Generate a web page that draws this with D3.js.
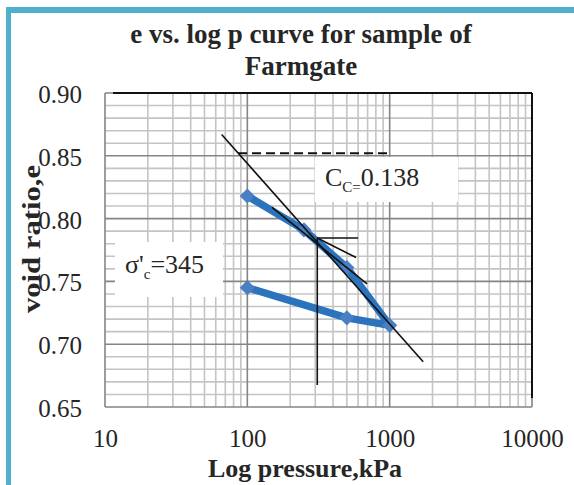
<!DOCTYPE html>
<html>
<head>
<meta charset="utf-8">
<script src="https://cdn.jsdelivr.net/npm/d3@7"></script>
<style>
  body { margin: 0; background: #fff; }
  text { font-family: "Liberation Serif", "Times New Roman", serif; fill: #262626; }
</style>
</head>
<body>
<svg width="574" height="485"></svg>
<script>
// e - log p test points (loading then unloading)
let pressure = [100, 250, 500, 1000, 500, 100]
let voidRatio = [0.818, 0.791, 0.761, 0.715, 0.721, 0.745]

let xTicks = [10, 100, 1000, 10000]
let yTicks = [0.65, 0.70, 0.75, 0.80, 0.85, 0.90]

// Casagrande construction lines, [pressure, e]
let compressionLine = [[66, 0.867], [1720, 0.686]]
let tangentLine = [[149, 0.809], [693, 0.748]]
let bisectorLine = [[310, 0.7845], [581, 0.769]]
let horizontalLine = [[310, 0.7845], [600, 0.7845]]
let verticalLine = [[310, 0.7845], [310, 0.6675]]
let dashedLine = [[86, 0.852], [1000, 0.852]]

let width = 574
let height = 485
let margin = { top: 93, bottom: 78, left: 105, right: 42 }
let serif = '"Liberation Serif", "Times New Roman", serif'

let svg = d3.select('svg')

svg.append('rect')
  .attr('width', width)
  .attr('height', height)
  .attr('fill', '#fff')

// outer frame (cut off right and bottom)
svg.append('rect').attr('x', 6).attr('y', 7).attr('width', width - 6).attr('height', 6).attr('fill', '#4eb0cc')
svg.append('rect').attr('x', 6).attr('y', 7).attr('width', 5).attr('height', height - 7).attr('fill', '#4eb0cc')

let xScale = d3.scaleLog()
  .domain([10, 10000])
  .range([margin.left, width - margin.right])

let yScale = d3.scaleLinear()
  .domain([0.65, 0.90])
  .range([height - margin.bottom, margin.top])

let x0 = xScale.range()[0], x1 = xScale.range()[1]
let y0 = yScale.range()[0], y1 = yScale.range()[1]

// grid
let minorX = []
;[10, 100, 1000].forEach(d => d3.range(2, 10).forEach(k => minorX.push(k * d)))
let minorY = d3.range(66, 90).filter(i => i % 5 !== 0).map(i => i / 100)

let grid = svg.append('g')
grid.selectAll('.mx').data(minorX).join('line')
  .attr('x1', d => xScale(d)).attr('x2', d => xScale(d))
  .attr('y1', y0).attr('y2', y1)
  .attr('stroke', '#c4c4c4').attr('stroke-width', 1.6)
grid.selectAll('.my').data(minorY).join('line')
  .attr('x1', x0).attr('x2', x1)
  .attr('y1', d => yScale(d)).attr('y2', d => yScale(d))
  .attr('stroke', '#c4c4c4').attr('stroke-width', 1.6)
grid.selectAll('.Mx').data(xTicks).join('line')
  .attr('x1', d => xScale(d)).attr('x2', d => xScale(d))
  .attr('y1', y0).attr('y2', y1)
  .attr('stroke', '#858585').attr('stroke-width', 1.6)
grid.selectAll('.My').data(yTicks).join('line')
  .attr('x1', x0).attr('x2', x1)
  .attr('y1', d => yScale(d)).attr('y2', d => yScale(d))
  .attr('stroke', '#858585').attr('stroke-width', 1.6)

// plot border: top and right in black
svg.append('line').attr('x1', x0 + 8).attr('x2', x1).attr('y1', y1).attr('y2', y1)
  .attr('stroke', '#111').attr('stroke-width', 2)
svg.append('line').attr('x1', x1).attr('x2', x1).attr('y1', y1).attr('y2', y0 - 9)
  .attr('stroke', '#111').attr('stroke-width', 2)

// axes
let xAxis = d3.axisBottom(xScale).tickValues(xTicks).tickSize(0).tickFormat(d3.format('d'))
let gx = svg.append('g')
  .attr('transform', 'translate(' + [0, y0] + ')')
  .call(xAxis)
gx.select('.domain').remove()
gx.selectAll('text')
  .attr('y', 40).attr('dy', null)
  .attr('font-size', 25).attr('font-family', serif).attr('fill', '#262626')

let yAxis = d3.axisLeft(yScale).tickValues(yTicks).tickSize(0).tickFormat(d3.format('.2f'))
let gy = svg.append('g')
  .attr('transform', 'translate(' + [x0, 0] + ')')
  .call(yAxis)
gy.select('.domain').remove()
gy.selectAll('text')
  .attr('x', -23).attr('dy', '0.38em')
  .attr('font-size', 25).attr('font-family', serif).attr('fill', '#262626')

// series
let points = pressure.map((p, i) => [p, voidRatio[i]])
let line = d3.line()
  .x(d => xScale(d[0]))
  .y(d => yScale(d[1]))

svg.append('path')
  .attr('d', line(points))
  .attr('fill', 'none')
  .attr('stroke', '#2c73bd')
  .attr('stroke-width', 7.5)
  .attr('stroke-linejoin', 'round')

svg.selectAll('.marker').data(points).join('path')
  .attr('d', d3.symbol(d3.symbolSquare, 115))
  .attr('transform', d => 'translate(' + [xScale(d[0]), yScale(d[1])] + ') rotate(45)')
  .attr('fill', '#4a7fc4')

// construction lines
;[compressionLine, tangentLine, bisectorLine, horizontalLine, verticalLine].forEach(seg => {
  svg.append('path')
    .attr('d', line(seg))
    .attr('stroke', '#111')
    .attr('stroke-width', 1.6)
})
svg.append('path')
  .attr('d', line(dashedLine))
  .attr('stroke', '#111')
  .attr('stroke-width', 2)
  .attr('stroke-dasharray', '9,5')

// annotation boxes
svg.append('rect').attr('x', 315).attr('y', 157).attr('width', 143).attr('height', 45).attr('fill', '#fff')
let cc = svg.append('text').attr('x', 325).attr('y', 186).attr('font-size', 26).attr('font-family', serif)
cc.append('tspan').text('C')
cc.append('tspan').attr('font-size', 15).attr('dy', 6).text('C=')
cc.append('tspan').attr('dy', -6).text('0.138')

svg.append('rect').attr('x', 115).attr('y', 242).attr('width', 108).attr('height', 55).attr('fill', '#fff')
let sc = svg.append('text').attr('x', 125).attr('y', 273).attr('font-size', 26).attr('font-family', serif)
sc.append('tspan').text("σ'")
sc.append('tspan').attr('font-size', 15).attr('dy', 6).text('c')
sc.append('tspan').attr('dy', -6).text('=345')

// titles
let title = svg.append('text')
  .attr('text-anchor', 'middle')
  .attr('font-size', 27)
  .attr('font-weight', 'bold')
  .attr('font-family', serif)
title.append('tspan').attr('x', 301).attr('y', 43).text('e vs. log p curve for sample of')
title.append('tspan').attr('x', 301).attr('y', 75).text('Farmgate')

svg.append('text')
  .attr('x', 305).attr('y', 477)
  .attr('text-anchor', 'middle')
  .attr('font-size', 26)
  .attr('font-weight', 'bold')
  .attr('font-family', serif)
  .text('Log pressure,kPa')

svg.append('text')
  .attr('transform', 'translate(40,239) rotate(-90) scale(1.18,1)')
  .attr('text-anchor', 'middle')
  .attr('font-size', 26)
  .attr('font-weight', 'bold')
  .attr('font-family', serif)
  .text('void ratio,e')
</script>
</body>
</html>
